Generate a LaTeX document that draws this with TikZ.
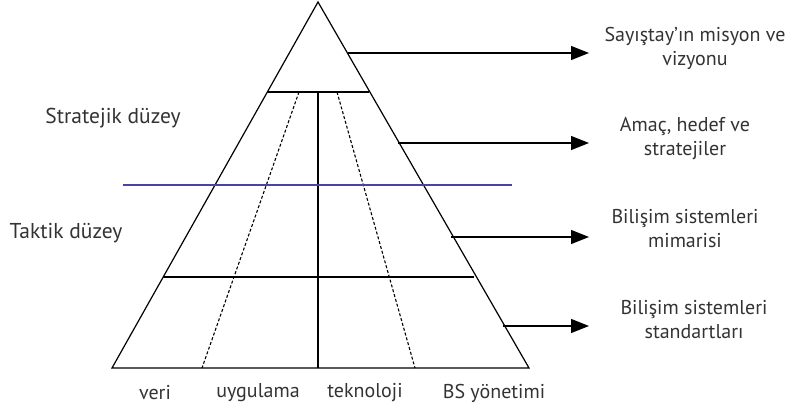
\documentclass[tikz,border=0pt]{standalone}
\usepackage{fontspec}
\setmainfont{PT Sans}
\usetikzlibrary{arrows.meta}
\definecolor{levelblue}{RGB}{70,70,160}
\tikzset{
  edge/.style={line width=1.2pt, black},
  divider/.style={line width=1.1pt, black, dash pattern=on 3pt off 2pt},
  pointer/.style={line width=1.4pt, -{Triangle[length=18pt,width=14pt]}},
  lbl/.style={font=\fontsize{20}{24}\selectfont, text=black!80, inner sep=0pt, align=center},
  sidelbl/.style={lbl, font=\fontsize{21.5}{25}\selectfont},
}
\begin{document}
\begin{tikzpicture}[x=1pt,y=-1pt]
\useasboundingbox (0,0) rectangle (788,410);
% pyramid
\coordinate (apex) at (318,2);
\coordinate (bl) at (112,368);
\coordinate (br) at (529,368);
\draw[edge] (bl) -- (apex) -- (br) -- cycle;
% tiers
\coordinate (t1l) at (268,92);
\coordinate (t1r) at (369,92);
\coordinate (t2l) at (163,277);
\coordinate (t2r) at (474,277);
\draw[edge] (t1l) -- (t1r);
\draw[edge] (t2l) -- (t2r);
% columns
\coordinate (ctop) at (318,92);
\coordinate (cbot) at (318,368);
\draw[edge] (ctop) -- (cbot);
\coordinate (d1t) at (299,92);
\coordinate (d1b) at (202,368);
\coordinate (d2t) at (337,92);
\coordinate (d2b) at (415,368);
\draw[divider] (d1t) -- (d1b);
\draw[divider] (d2t) -- (d2b);
% blue level line
\coordinate (bll) at (123,185);
\coordinate (blr) at (512,185);
\draw[levelblue, line width=1.5pt] (bll) -- (blr);
% arrows
\coordinate (a1s) at (348,53);
\coordinate (a1e) at (589,53);
\coordinate (a2s) at (398,143);
\coordinate (a2e) at (589,143);
\coordinate (a3s) at (451,237);
\coordinate (a3e) at (589,237);
\coordinate (a4s) at (503,326);
\coordinate (a4e) at (589,326);
\draw[pointer] (a1s) -- (a1e);
\draw[pointer] (a2s) -- (a2e);
\draw[pointer] (a3s) -- (a3e);
\draw[pointer] (a4s) -- (a4e);
% right labels
\node[lbl] (r1) at (695,48) {Sayıştay’ın misyon ve\\vizyonu};
\node[lbl] (r2) at (685,139) {Amaç, hedef ve\\stratejiler};
\node[lbl] (r3) at (685,229) {Bilişim sistemleri\\mimarisi};
\node[lbl] (r4) at (694,320) {Bilişim sistemleri\\standartları};
% left labels
\node[sidelbl] (s) at (113,118) {Stratejik düzey};
\node[sidelbl] (t) at (66,233) {Taktik düzey};
% bottom labels
\node[lbl] (b1) at (155,393) {veri};
\node[lbl] (b2) at (258,393) {uygulama};
\node[lbl] (b3) at (365,393) {teknoloji};
\node[lbl] (b4) at (494,393) {BS yönetimi};
\end{tikzpicture}
\end{document}
